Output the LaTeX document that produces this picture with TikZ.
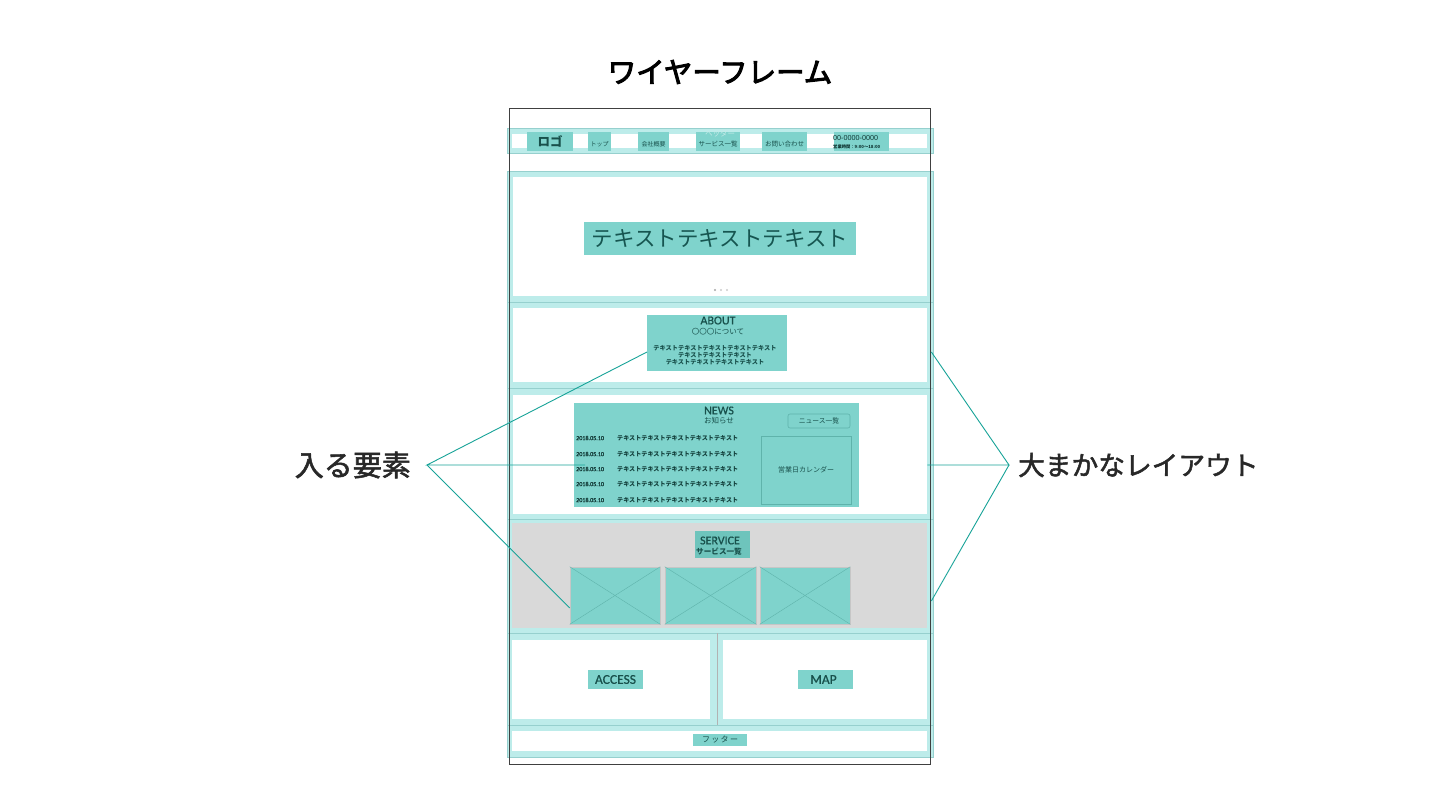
\documentclass[tikz,border=0pt]{standalone}
\usepackage{fontspec}
\usetikzlibrary{calc}
\newfontfamily\jp{Noto Sans CJK JP}
\newfontfamily\jpt[FakeBold=3.5]{Noto Sans CJK JP}
\newfontfamily\jpl[FakeBold=1.8]{Noto Sans CJK JP}
\newfontfamily\lat[FakeBold=0.8]{Carlito}
\newfontfamily\ari{Liberation Sans}
\newcommand\fsz[1]{\fontsize{#1}{#1}\selectfont}
\definecolor{bandc}{RGB}{189,236,234}
\definecolor{bandl}{RGB}{150,208,206}
\definecolor{tealc}{RGB}{127,211,204}
\definecolor{tealdk}{RGB}{110,196,188}
\definecolor{tealln}{RGB}{95,179,171}
\definecolor{txtc}{RGB}{24,80,75}
\definecolor{connc}{RGB}{23,163,152}
\definecolor{graybg}{RGB}{217,217,217}
\definecolor{labc}{RGB}{40,40,40}
\begin{document}
\begin{tikzpicture}[x=1pt,y=-1pt,
  band/.style={fill=bandc,draw=bandl,line width=0.7},
  innerw/.style={fill=white},
  tbox/.style={fill=tealc,inner sep=0,outer sep=0},
  ttxt/.style={text=txtc,inner sep=0},
  conn/.style={draw=connc,line width=0.9},
  imgbox/.style={fill=tealc,draw=gray!45,line width=0.6,inner sep=0},
  diag/.style={draw=tealln,line width=0.4}]
\useasboundingbox[fill=white] (0,0) rectangle (1440,810);

% title
\node[font=\jpt\fsz{28.5},text=black] (title) at (720,72) {ワイヤーフレーム};

% section bands
\path[band] (507,128) rectangle (933,153);
\path[innerw] (512,134) rectangle (927,148);
\path[band] (507,171) rectangle (933,302);
\path[innerw] (513,177) rectangle (927,296);
\path[band] (507,302) rectangle (933,388);
\path[innerw] (513,308) rectangle (927,382);
\path[band] (507,388) rectangle (933,519);
\path[innerw] (513,395) rectangle (927,514);
\path[band] (507,519) rectangle (933,633);
\path[fill=graybg] (512,523) rectangle (927,628);
\path[band] (507,633) rectangle (933,725);
\path[innerw] (512,640) rectangle (710,719);
\path[innerw] (723,640) rectangle (927,719);
\draw[gray!60,line width=0.6] (717,633) -- (717,725);
\path[band] (507,725) rectangle (933,757);
\path[innerw] (512,731) rectangle (927,751);

% header
\node[tbox,minimum width=46,minimum height=19,font=\jp\bfseries\fsz{12.5},text=txtc] (logo) at (550,141.5) {ロゴ};
\node[tbox,minimum width=23,minimum height=19] (navtop) at (599.5,141.5) {};
\node[ttxt,font=\jp\fsz{6}] at (599.5,144) {トップ};
\node[tbox,minimum width=31,minimum height=19] (navco) at (653.5,141.5) {};
\node[ttxt,font=\jp\fsz{6}] at (653.5,144) {会社概要};
\node[tbox,minimum width=44,minimum height=19] (navsv) at (718,141.5) {};
\node[inner sep=0,text=white!55!tealc,font=\jp\fsz{7.5}] at (720,134) {ヘッダー};
\node[ttxt,font=\jp\fsz{6.5}] at (718,144) {サービス一覧};
\node[tbox,minimum width=45,minimum height=19] (navct) at (784.5,141.5) {};
\node[ttxt,font=\jp\fsz{6.5}] at (784.5,144) {お問い合わせ};
\node[tbox,minimum width=55,minimum height=19] (navtel) at (861.5,141.5) {};
\node[ttxt,anchor=west,font=\ari\fsz{7.2},text=txtc!70!black] at (833,138) {00-0000-0000};
\node[ttxt,anchor=west,font=\jp\bfseries\fsz{4.3},text=txtc!70!black] at (833,146.5) {営業時間：9:00～18:00};

% hero
\node[tbox,minimum width=272,minimum height=33,font=\jp\fsz{21.5},text=txtc!90!teal] (hero) at (720,238.5) {テキストテキストテキスト};
\fill[gray!70] (715,290) circle (1.2);
\fill[gray!40] (721,290) circle (1.2);
\fill[gray!40] (727,290) circle (1.2);

% about
\node[tbox,minimum width=140,minimum height=56] (about) at (717,343) {};
\node[ttxt,font=\lat\fsz{12}] at (718,320.5) {ABOUT};
\node[ttxt,font=\jp\fsz{7.5}] at (718,332) {〇〇〇について};
\node[ttxt,font=\jp\bfseries\fsz{6.2}] at (715,348) {テキストテキストテキストテキストテキスト};
\node[ttxt,font=\jp\bfseries\fsz{6.2}] at (715,355) {テキストテキストテキスト};
\node[ttxt,font=\jp\bfseries\fsz{6.2}] at (715,362.5) {テキストテキストテキストテキスト};

% news
\node[tbox,minimum width=285,minimum height=104] (news) at (716.5,455) {};
\node[ttxt,font=\lat\fsz{12}] at (719,410.5) {NEWS};
\node[ttxt,font=\jp\fsz{7.5}] at (719,421) {お知らせ};
\node[fill=tealc,draw=tealln,line width=0.6,rounded corners=2,minimum width=62,minimum height=14,inner sep=0,text=txtc,font=\jp\fsz{6.8}] (newsbtn) at (819,421) {ニュース一覧};
\node[fill=tealc,draw=tealln,line width=0.6,minimum width=90,minimum height=68,inner sep=0,text=txtc,font=\jp\fsz{7}] (cal) at (806,470) {営業日カレンダー};
\foreach \yy [count=\i] in {438,454,469,484,500}{
  \node[ttxt,anchor=west,font=\lat\fsz{6.1},text=txtc!70!black] (date\i) at (576,\yy) {2018.05.10};
  \node[ttxt,anchor=west,font=\jp\bfseries\fsz{6.1},text=txtc!80!black] (ntext\i) at (617,\yy) {テキストテキストテキストテキストテキスト};
}

% service
\node[fill=tealdk,inner sep=0,minimum width=55,minimum height=27] (svc) at (722.5,544.5) {};
\node[ttxt,font=\lat\fsz{12}] at (720,540.5) {SERVICE};
\node[ttxt,font=\jp\bfseries\fsz{7.6}] at (719,551.5) {サービス一覧};
\node[imgbox,minimum width=90,minimum height=57] (img1) at (615,595.5) {};
\node[imgbox,minimum width=91,minimum height=57] (img2) at (710.5,595.5) {};
\node[imgbox,minimum width=90,minimum height=57] (img3) at (805,595.5) {};
\foreach \n in {img1,img2,img3}{
  \draw[diag] (\n.north west) -- (\n.south east);
  \draw[diag] (\n.south west) -- (\n.north east);
}

% access / map
\node[tbox,minimum width=55,minimum height=19,font=\lat\fsz{13.5},text=txtc] (access) at (615.5,679.5) {ACCESS};
\node[tbox,minimum width=55,minimum height=19] (map) at (825.5,679.5) {};
\node[ttxt,font=\lat\fsz{13.5}] at (823.5,679.5) {MAP};

% footer
\node[tbox,minimum width=54,minimum height=12] (foot) at (720,740) {};
\node[ttxt,font=\jp\fsz{8}] at (720,740) {フ\,ッ\,タ\,ー};

% page frame
\node[draw=black!75,line width=0.7,minimum width=421,minimum height=656,inner sep=0] (page) at (719.5,436) {};

% labels
\node[anchor=east,inner sep=0,text=labc,font=\jpl\fsz{29}] (llab) at (411,465) {入る要素};
\node[anchor=west,inner sep=0,text=labc,font=\jpl\fsz{26.7}] (rlab) at (1018,465) {大まかなレイアウト};

\coordinate (lv) at ($(llab.east)+(16,0)$);
\coordinate (rv) at ($(rlab.west)+(-9,0)$);
\draw[conn] ($(about.west)+(0,9)$) -- (lv) -- ($(news.west)+(11,10)$);
\draw[conn] (lv) -- ($(img1.west)+(0,12.5)$);
\draw[conn] ($(page.east)+(1,-84)$) -- (rv) -- ($(page.east)+(-3,29)$);
\draw[conn] (rv) -- ($(page.east)+(1,165)$);
\end{tikzpicture}
\end{document}
